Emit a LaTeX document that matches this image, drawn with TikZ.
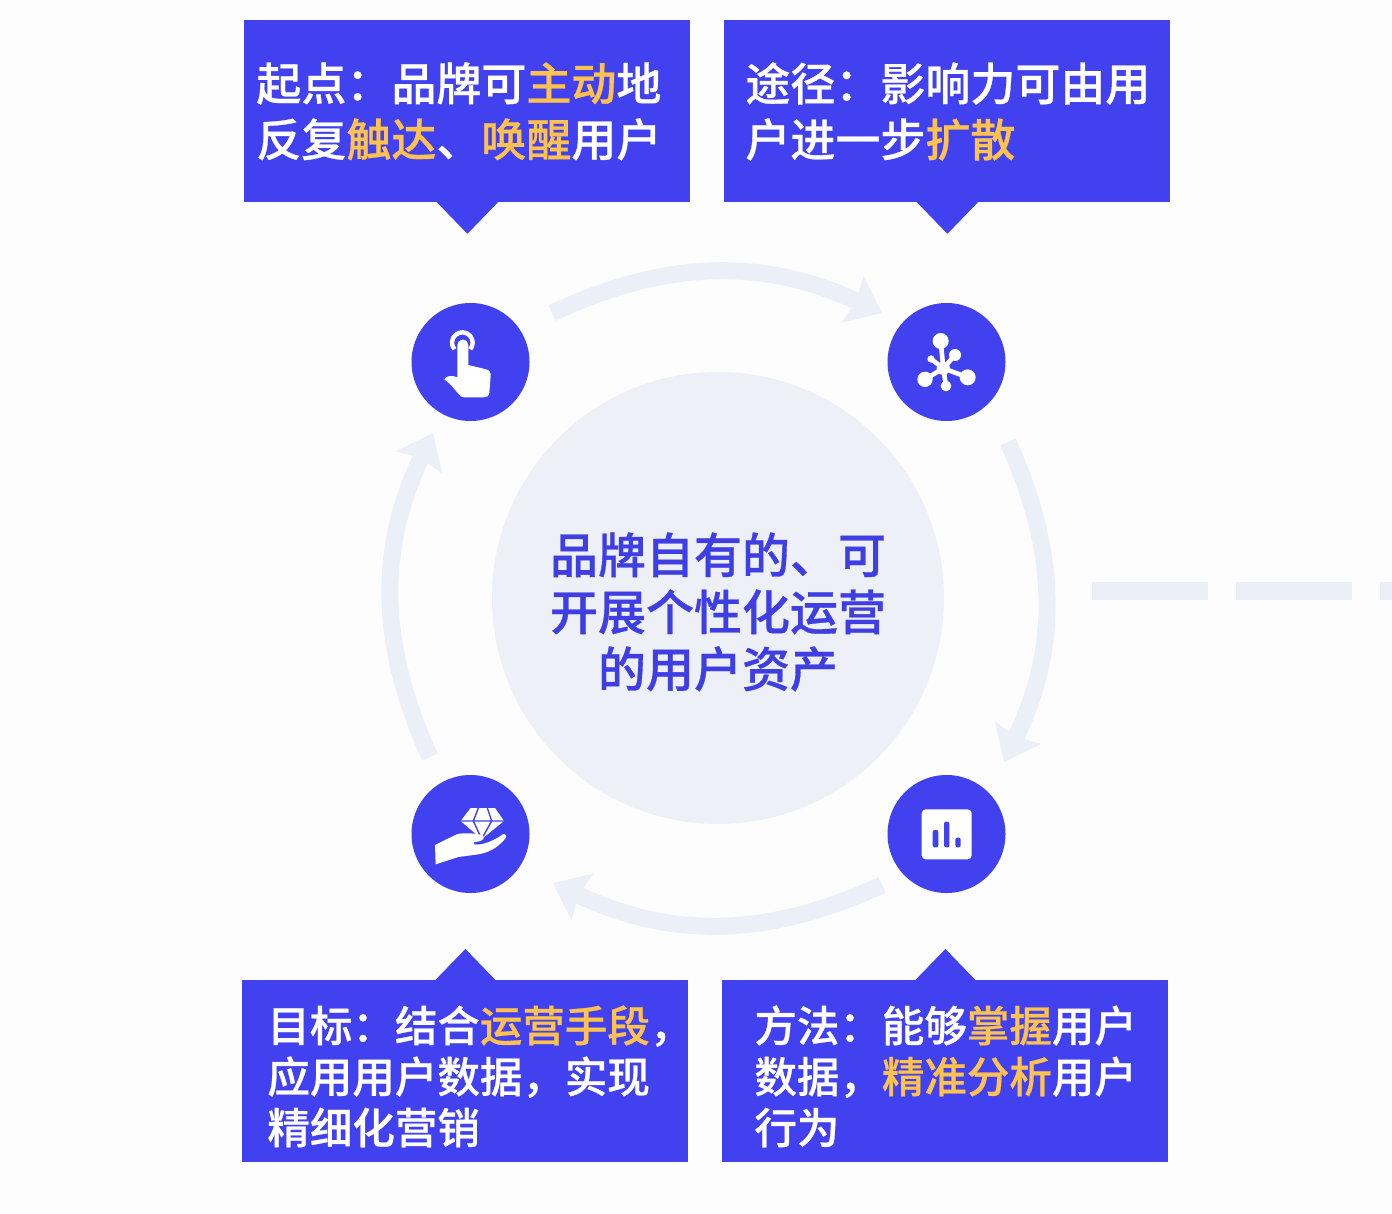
\documentclass[tikz,border=0pt]{standalone}
\usepackage{fontspec}
\setmainfont{Noto Sans CJK SC Medium}[FakeBold=0.6]
\usetikzlibrary{arrows.meta}
\definecolor{pagebg}{HTML}{FDFDFE}
\definecolor{brandblue}{HTML}{4141EF}
\definecolor{ringgrey}{HTML}{EBEFF7}
\definecolor{hubgrey}{HTML}{EDF0F7}
\definecolor{hiorange}{HTML}{FFC24F}
\newcommand{\hl}[1]{\textcolor{hiorange}{#1}}
\tikzset{
    banner/.style={fill=brandblue, minimum width=223pt, minimum height=91pt, inner sep=0pt},
    bigtext/.style={text=white, align=left, inner sep=0pt, anchor=west, font=\fontsize{22.5}{28}\selectfont},
    smalltext/.style={text=white, align=left, inner sep=0pt, anchor=west, font=\fontsize{21.25}{25.5}\selectfont},
    badge/.style={circle, fill=brandblue, minimum size=59pt, inner sep=0pt},
    ringarrow/.style={draw=ringgrey, line width=8.5pt, -{Stealth[inset=2pt, length=16pt, width=25pt]}},
    icon/.style={shift={#1}, x=.16667pt, y=-.16667pt}
}
\begin{document}
\begin{tikzpicture}[x=.5pt, y=-.5pt]
    \fill[pagebg] (0,0) rectangle (1392,1214);
    \useasboundingbox (0,0) rectangle (1392,1214);

    % Hub and dashes
    \node [circle, fill=hubgrey, minimum size=226pt, inner sep=0pt] (hub) at (718,598) {};
    \node [text=brandblue!95!black, align=center, inner sep=0pt, font=\fontsize{24}{28.5}\selectfont] (hubtext) at (718,612) {品牌自有的、可\\开展个性化运营\\的用户资产};
    \coordinate (dashstart) at (1092,591);
    \coordinate (dashend) at (1392,591);
    \draw [draw=ringgrey, line width=9pt, dash pattern=on 58pt off 14pt] (dashstart) -- (dashend);

    % Badges
    \node [badge] (touch) at (470.5,362) {};
    \node [badge] (spread) at (946.5,362) {};
    \node [badge] (gem) at (470.5,834) {};
    \node [badge] (chart) at (946.5,834) {};

    % Ring
    \coordinate (ta) at (552,313);  \coordinate (tb) at (882,313);
    \coordinate (ra) at (1008,442); \coordinate (rb) at (1004,762);
    \coordinate (ba) at (882,885);  \coordinate (bb) at (553,883);
    \coordinate (la) at (430,757);  \coordinate (lb) at (433,433);
    \path [ringarrow] (ta) to [bend left=25] (tb);
    \path [ringarrow] (ra) to [bend left=25] (rb);
    \path [ringarrow] (ba) to [bend left=25] (bb);
    \path [ringarrow] (la) to [bend left=25] (lb);

    % Banners
    \node [banner, anchor=north west] (startbox) at (244,20) {};
    \node [banner, anchor=north west] (pathbox) at (724,20) {};
    \node [banner, anchor=north west] (goalbox) at (242,980) {};
    \node [banner, anchor=north west] (methodbox) at (722,980) {};
    \fill [brandblue] ([xshift=-15.5pt,yshift=.5pt]startbox.south) -- ++(15.5pt,-16pt) -- ++(15.5pt,16pt) -- cycle;
    \fill [brandblue] ([xshift=-15.5pt,yshift=.5pt]pathbox.south) -- ++(15.5pt,-16pt) -- ++(15.5pt,16pt) -- cycle;
    \fill [brandblue] ([xshift=-15.5pt,yshift=-.5pt]goalbox.north) -- ++(15.5pt,16pt) -- ++(15.5pt,-16pt) -- cycle;
    \fill [brandblue] ([xshift=-15.5pt,yshift=-.5pt]methodbox.north) -- ++(15.5pt,16pt) -- ++(15.5pt,-16pt) -- cycle;
    \node [bigtext] (starttext) at ([xshift=6pt]startbox.west) {起点：品牌可\hl{主动}地\\反复\hl{触达}、\hl{唤醒}用户};
    \node [bigtext] (pathtext) at ([xshift=10.5pt]pathbox.west) {途径：影响力可由用\\户进一步\hl{扩散}};
    \node [smalltext] (goaltext) at ([xshift=12.5pt,yshift=-2.5pt]goalbox.west) {目标：结合\hl{运营手段}，\\应用用户数据，实现\\精细化营销};
    \node [smalltext] (methodtext) at ([xshift=16pt,yshift=-2.5pt]methodbox.west) {方法：能够\hl{掌握}用户\\数据，\hl{精准分析}用户\\行为};

    % Icons
    \begin{scope}[icon={(400,290)}]
        \draw [white, line width=2.2pt] (187,158) ++(140:31) arc [start angle=140, end angle=400, radius=31];
        \fill [white] (172,165) arc [start angle=180, end angle=360, radius=16.5] -- (205,225) -- (258,238)
            .. controls (268,240) and (273,248) .. (272,258) -- (268,308)
            .. controls (267,318) and (260,322) .. (252,322) -- (192,322)
            .. controls (184,322) and (180,318) .. (174,310) -- (150,282)
            .. controls (145,276) and (138,274) .. (133,268)
            .. controls (136,260) and (148,257) .. (158,258) -- (172,262) -- cycle;
    \end{scope}
    \begin{scope}[icon={(875,290)}]
        \fill [white] (197,153) circle [radius=24] (240,195) circle [radius=18] (168,207) circle [radius=11]
            (150,268) circle [radius=23] (278,262) circle [radius=24] (213,288) circle [radius=16]
            (205,235) circle [radius=20];
        \draw [white, line width=2.3pt] (197,153) -- (205,235) (240,195) -- (205,235) (168,207) -- (205,235)
            (150,268) -- (205,235) (278,262) -- (205,235) (213,288) -- (205,235);
    \end{scope}
    \begin{scope}[icon={(400,765)}]
        \fill [white] (212,129) -- (285,129) -- (312,168) -- (245,222) -- (182,168) -- cycle;
        \draw [brandblue, line width=.7pt] (182,168) -- (312,168) (235,129) -- (220,168) -- (245,222) -- (275,168) -- (262,129);
        \fill [white] (105,240) -- (170,208) .. controls (190,202) and (235,205) .. (250,212)
            .. controls (256,222) and (245,230) .. (222,231) -- (222,238)
            .. controls (250,242) and (285,225) .. (310,207)
            .. controls (322,207) and (320,218) .. (312,225)
            .. controls (290,250) and (265,263) .. (235,268) -- (175,276) -- (107,298) -- cycle;
    \end{scope}
    \begin{scope}[icon={(875,765)}]
        \fill [white, rounded corners=2pt] (140,133) rectangle (290,283);
        \fill [brandblue, rounded corners=1pt] (173,195) rectangle (190,247) (207,170) rectangle (223,247) (241,218) rectangle (257,247);
    \end{scope}
\end{tikzpicture}
\end{document}
